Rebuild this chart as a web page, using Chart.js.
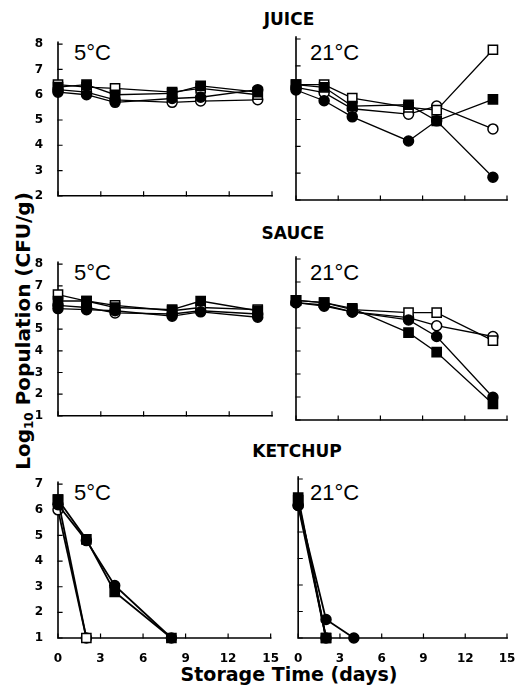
<!DOCTYPE html>
<html><head><meta charset="utf-8">
<script src="https://cdn.jsdelivr.net/npm/chart.js@4"></script>
<style>
html,body{margin:0;padding:0;background:#fff;}
body{width:526px;height:687px;position:relative;overflow:hidden;font-family:"DejaVu Sans",sans-serif;color:#000;}
canvas{position:absolute;}
.t{position:absolute;white-space:nowrap;line-height:1;}
.title{font-weight:bold;font-size:17px;transform:translateX(-50%);}
.temp{font-family:"Liberation Sans",sans-serif;font-size:22px;}
#ytitle{left:24px;top:331px;font-weight:bold;font-size:20px;transform:translate(-50%,-50%) rotate(-90deg);}
#ytitle sub{font-size:12px;vertical-align:-3px;}
#xtitle{left:289px;top:665px;font-weight:bold;font-size:19px;transform:translateX(-50%);}
</style></head><body>
<div class="t title" style="left:289px;top:11px">JUICE</div>
<div class="t title" style="left:293px;top:225px">SAUCE</div>
<div class="t title" style="left:297px;top:443px">KETCHUP</div>
<div class="t temp" style="left:74px;top:42px">5°C</div>
<div class="t temp" style="left:310px;top:42px">21°C</div>
<div class="t temp" style="left:74px;top:262px">5°C</div>
<div class="t temp" style="left:310px;top:262px">21°C</div>
<div class="t temp" style="left:74px;top:482px">5°C</div>
<div class="t temp" style="left:310px;top:482px">21°C</div>
<div class="t" id="ytitle">Log<sub>10</sub> Population (CFU/g)</div>
<div class="t" id="xtitle">Storage Time (days)</div>

<canvas id="c1" width="285" height="180" style="left:0;top:30px"></canvas>
<canvas id="c2" width="238" height="180" style="left:288px;top:30px"></canvas>
<canvas id="c3" width="285" height="180" style="left:0;top:250px"></canvas>
<canvas id="c4" width="238" height="180" style="left:288px;top:250px"></canvas>
<canvas id="c5" width="285" height="193" style="left:0;top:470px"></canvas>
<canvas id="c6" width="238" height="193" style="left:288px;top:470px"></canvas>

<script>
// ---- data ----
const juiceDays = [0, 2, 4, 8, 10, 14];
const sauceDays = [0, 2, 4, 8, 10, 14];
const ketchup5Days = [0, 2, 4, 8];
const ketchup21Days = [0, 2, 4];
const xTickValues = [0, 3, 6, 9, 12, 15];
const juiceYTicks = [2, 3, 4, 5, 6, 7, 8];
const sauceYTicks = [1, 2, 3, 4, 5, 6, 7, 8];
const ketchupYTicks = [1, 2, 3, 4, 5, 6, 7];

// Juice 5°C
const juice5FilledSquare = [6.3, 6.4, 6.0, 6.05, 6.35, 6.1];
const juice5FilledCircle = [6.1, 6.0, 5.7, 5.85, 5.9, 6.2];
const juice5OpenSquare   = [6.4, 6.3, 6.25, 6.1, 6.25, 6.0];
const juice5OpenCircle   = [6.2, 6.1, 5.8, 5.7, 5.75, 5.8];
// Juice 21°C
const juice21FilledSquare = [6.3, 6.2, 5.5, 5.55, 4.95, 5.75];
const juice21FilledCircle = [6.1, 5.7, 5.1, 4.2, 4.95, 2.85];
const juice21OpenSquare   = [6.3, 6.3, 5.8, 5.45, 5.35, 7.6];
const juice21OpenCircle   = [6.2, 6.0, 5.4, 5.2, 5.5, 4.65];
// Sauce 5°C
const sauce5FilledSquare = [6.3, 6.3, 6.0, 5.9, 6.3, 5.85];
const sauce5FilledCircle = [5.95, 5.9, 5.85, 5.6, 5.8, 5.55];
const sauce5OpenSquare   = [6.6, 6.3, 6.1, 5.85, 6.0, 5.9];
const sauce5OpenCircle   = [6.1, 6.0, 5.75, 5.7, 5.85, 5.7];
// Sauce 21°C
const sauce21FilledSquare = [6.2, 6.1, 5.85, 4.8, 3.95, 1.7];
const sauce21FilledCircle = [6.1, 5.95, 5.7, 5.35, 4.63, 1.99];
const sauce21OpenSquare   = [6.2, 6.1, 5.8, 5.67, 5.67, 4.45];
const sauce21OpenCircle   = [6.1, 6.0, 5.7, 5.45, 5.1, 4.63];
// Ketchup 5°C
const ketchup5FilledSquare = [6.4, 4.85, 2.8, 1];
const ketchup5FilledCircle = [6.2, 4.8, 3.05, 1];
const ketchup5OpenSquare   = [6.4, 1, null, null];
const ketchup5OpenCircle   = [6.0, 1, null, null];
// Ketchup 21°C
const ketchup21FilledSquare = [6.3, 1, null];
const ketchup21FilledCircle = [6.0, 1.7, 1];
const ketchup21OpenSquare   = [6.2, 1, null];
const ketchup21OpenCircle   = [6.0, 1, null];

// ---- drawing ----
const axesPlugin = {
  id: 'axesInward',
  beforeDatasetsDraw(chart) {
    const {ctx, chartArea: a, scales: {x, y}} = chart;
    ctx.save();
    ctx.strokeStyle = '#000';
    ctx.lineCap = 'square';
    ctx.lineWidth = 1.6;
    ctx.beginPath();
    ctx.moveTo(a.left, a.top - 2);
    ctx.lineTo(a.left, a.bottom);
    ctx.lineTo(a.right, a.bottom);
    ctx.stroke();
    ctx.lineWidth = 1.2;
    ctx.beginPath();
    x.ticks.forEach(t => { const p = x.getPixelForValue(t.value); ctx.moveTo(p, a.bottom); ctx.lineTo(p, a.bottom - 4); });
    y.ticks.forEach(t => { const p = y.getPixelForValue(t.value); ctx.moveTo(a.left, p); ctx.lineTo(a.left + 4, p); });
    ctx.stroke();
    ctx.restore();
  }
};

function ds(days, vals, style, filled, lw) {
  return {
    data: days.map((d, i) => ({x: d, y: vals[i]})),
    borderColor: '#000',
    borderWidth: lw,
    backgroundColor: filled ? '#000' : '#fff',
    pointBackgroundColor: filled ? '#000' : '#fff',
    pointBorderColor: '#000',
    pointBorderWidth: 1.5,
    pointStyle: style,
    pointRadius: style === 'rect' ? 6.5 : 5,
    pointHoverRadius: style === 'rect' ? 6.5 : 5,
    tension: 0,
    spanGaps: false,
    clip: false
  };
}

function panel(id, days, fs, fc, os, oc, yTicks, left, bottom, lw) {
  const isRight = !left;
  new Chart(document.getElementById(id), {
    type: 'line',
    data: {datasets: [
      ds(days, fs, 'rect', true, lw),
      ds(days, fc, 'circle', true, lw),
      ds(days, os, 'rect', false, lw),
      ds(days, oc, 'circle', false, lw)
    ]},
    options: {
      responsive: false,
      animation: false,
      events: [],
      layout: {padding: {top: 9, left: 0, bottom: 0, right: isRight ? 19 : 13}},
      plugins: {legend: {display: false}, tooltip: {enabled: false}},
      scales: {
        x: {
          type: 'linear', min: 0, max: 15,
          afterBuildTicks: s => { s.ticks = xTickValues.map(v => ({value: v})); },
          afterFit: s => { s.height = bottom ? 25 : 10; },
          grid: {display: false},
          border: {display: false},
          ticks: {
            display: bottom,
            color: '#000',
            padding: 6,
            maxRotation: 0,
            autoSkip: false,
            font: {family: 'DejaVu Sans', weight: 'bold', size: 12}
          }
        },
        y: {
          type: 'linear', min: yTicks[0], max: yTicks[yTicks.length - 1],
          afterBuildTicks: s => { s.ticks = yTicks.map(v => ({value: v})); },
          afterFit: s => { s.width = left ? 58 : 5; },
          grid: {display: false},
          border: {display: false},
          ticks: {
            display: left,
            color: '#000',
            padding: 7,
            autoSkip: false,
            font: {family: 'DejaVu Sans', weight: 'bold', size: 12}
          }
        }
      }
    },
    plugins: [axesPlugin]
  });
}

panel('c1', juiceDays, juice5FilledSquare, juice5FilledCircle, juice5OpenSquare, juice5OpenCircle, juiceYTicks, true, false, 1.3);
panel('c2', juiceDays, juice21FilledSquare, juice21FilledCircle, juice21OpenSquare, juice21OpenCircle, juiceYTicks, false, false, 1.3);
panel('c3', sauceDays, sauce5FilledSquare, sauce5FilledCircle, sauce5OpenSquare, sauce5OpenCircle, sauceYTicks, true, false, 1.3);
panel('c4', sauceDays, sauce21FilledSquare, sauce21FilledCircle, sauce21OpenSquare, sauce21OpenCircle, sauceYTicks, false, false, 1.3);
panel('c5', ketchup5Days, ketchup5FilledSquare, ketchup5FilledCircle, ketchup5OpenSquare, ketchup5OpenCircle, ketchupYTicks, true, true, 1.8);
panel('c6', ketchup21Days, ketchup21FilledSquare, ketchup21FilledCircle, ketchup21OpenSquare, ketchup21OpenCircle, ketchupYTicks, false, true, 1.8);
</script>
</body></html>
